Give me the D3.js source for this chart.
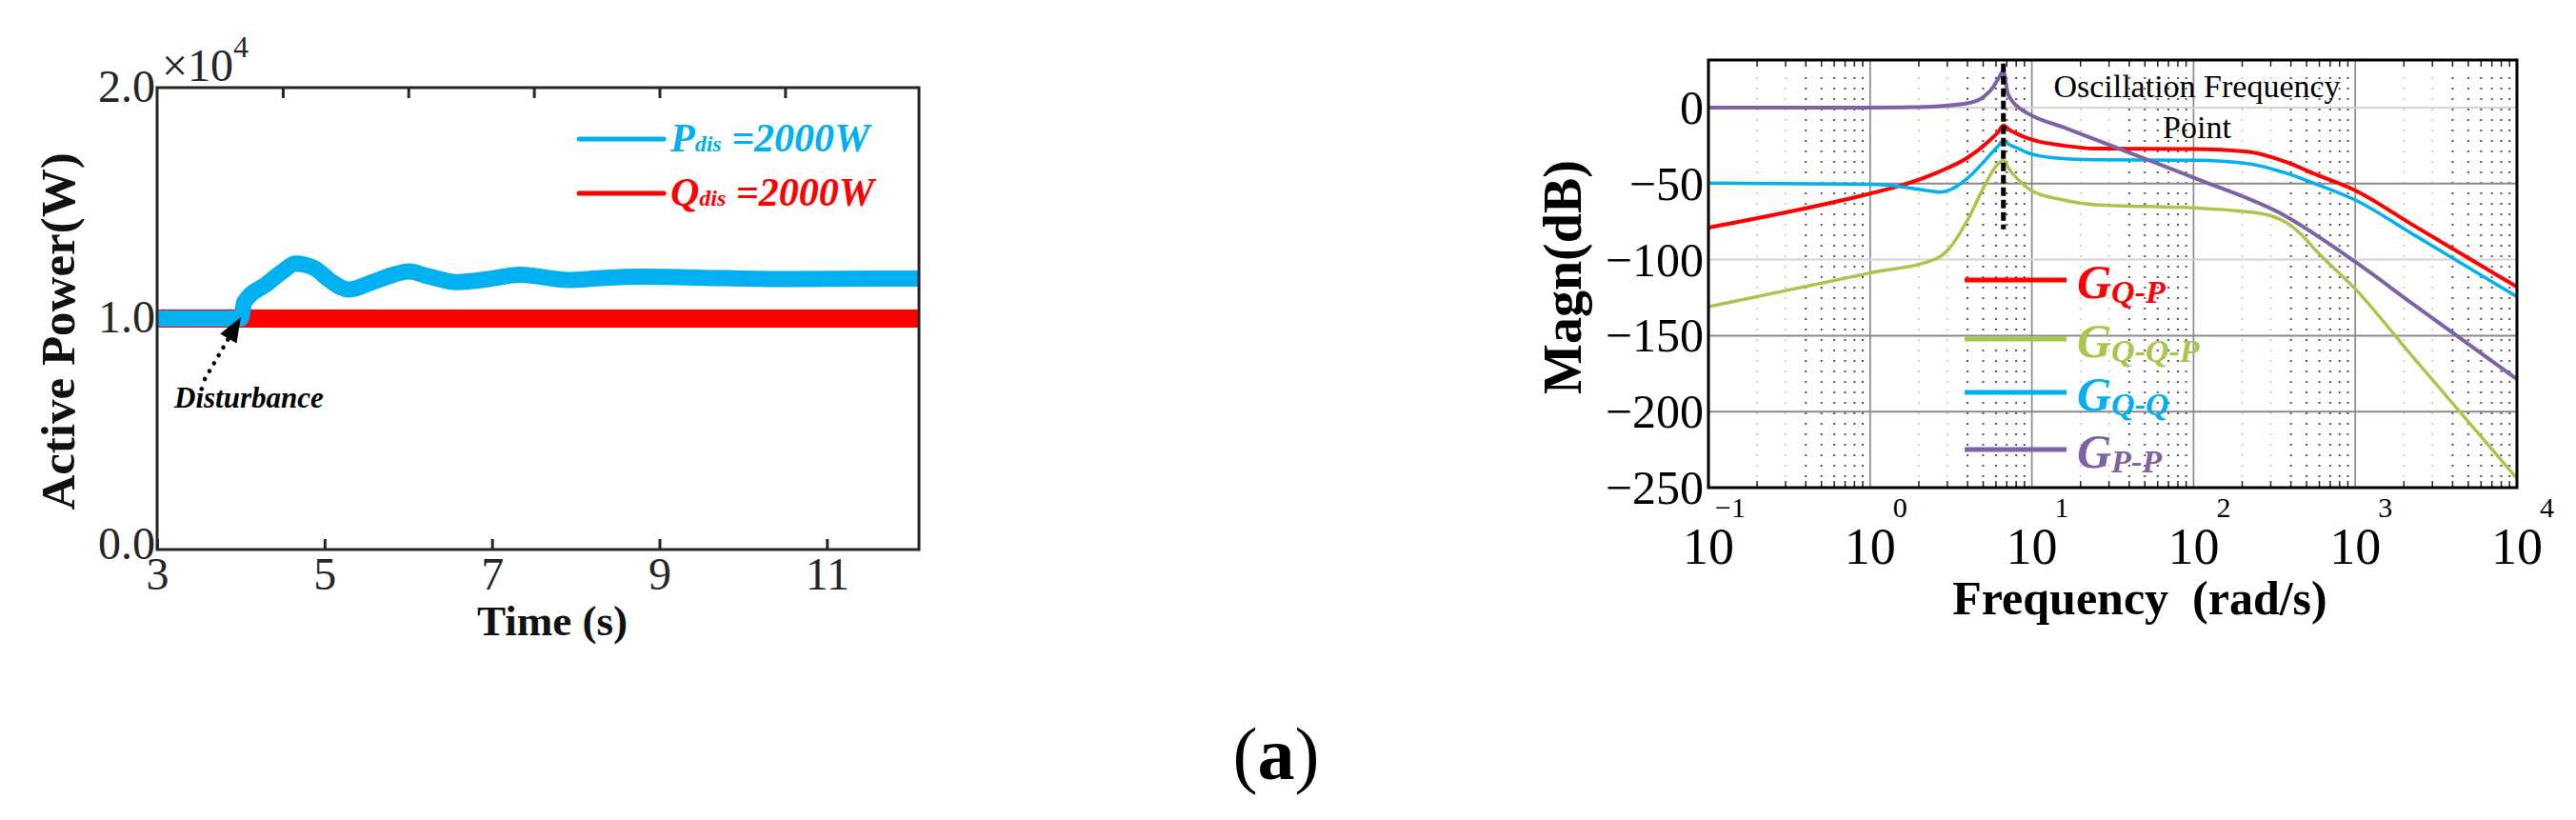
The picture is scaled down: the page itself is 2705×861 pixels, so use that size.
<!DOCTYPE html>
<html>
<head>
<meta charset="utf-8">
<script src="https://cdn.jsdelivr.net/npm/d3@7"></script>
<style>
  body { margin: 0; background: #fff; }
  text { font-family: 'Liberation Serif', 'Times New Roman', serif; }
</style>
</head>
<body>
<script>
// ---- values ----

// Left panel: active power (x10^4 W) against time (s).
var timeTicks = [3, 5, 7, 9, 11];
var timeTopTicks = [4.5, 6, 7.5, 9, 10.5];
var powerTicks = [0, 1, 2];

var pDisTime  = [3, 4.0, 4.04, 4.31, 4.5, 4.65, 4.88, 5.07, 5.29, 5.56, 5.82, 6.01, 6.24, 6.58, 6.96, 7.34, 7.91, 8.29, 8.78, 9.77, 10.53, 11.67, 12.1];
var pDisValue = [1.0, 1.0, 1.07, 1.15, 1.204, 1.238, 1.218, 1.163, 1.126, 1.156, 1.19, 1.204, 1.183, 1.158, 1.171, 1.19, 1.167, 1.175, 1.181, 1.175, 1.171, 1.173, 1.173];
var qDisTime  = [3, 4.0, 12.1];
var qDisValue = [1.0, 1.0, 1.0];

// Right panel: magnitude (dB) against frequency (rad/s).
var freqTicks = [0.1, 1, 10, 100, 1000, 10000];
var freqExponents = ['\u22121', '0', '1', '2', '3', '4'];
var magTicks = [0, -50, -100, -150, -200, -250];
var oscFreq = 6.67;

var gqpFreq = [0.1, 1, 1.49, 2.56, 4.05, 5.3, 6.2, 6.67, 7.3, 8.0, 9.9, 15.7, 24.6, 99.5, 215, 371, 571, 1000, 2250, 10000];
var gqpMag  = [-79, -56.6, -51.8, -43, -32.6, -23, -16, -11.7, -14.8, -17, -21, -25, -27, -27.3, -29, -35.7, -44, -54.5, -77, -118];

var gqqpFreq = [0.1, 1, 2.56, 2.94, 4.05, 5.04, 6.09, 6.67, 7.3, 8.0, 9.9, 15.7, 24.6, 99.5, 189, 296, 371, 466, 571, 1000, 2250, 10000];
var gqqpMag  = [-131, -108.8, -99.4, -95, -73, -52.4, -37.8, -34.7, -41, -46, -54.5, -60.8, -63.9, -66, -68, -71, -75.4, -83.7, -94, -119.3, -163.5, -244];

var gqqFreq = [0.1, 1, 1.63, 2.2, 2.7, 3.2, 4.05, 5.04, 6.1, 6.67, 7.3, 8.0, 9.9, 15.7, 24.6, 99.5, 215, 371, 571, 1000, 2250, 10000];
var gqqMag  = [-49.7, -50.5, -52.4, -54.5, -55.6, -53.5, -46, -35.7, -26, -22, -24.5, -26.3, -30.5, -33.6, -34.3, -34.7, -36.8, -43, -50.3, -60.8, -83, -124.5];

var gppFreq = [0.1, 1, 1.6, 2.56, 4.05, 5.04, 5.76, 6.2, 6.67, 7.06, 7.6, 8.3, 9.9, 15.7, 24.6, 99.5, 371, 1000, 2250, 10000];
var gppMag  = [0, 0, 0.2, 0.8, 2.9, 7.1, 13.3, 19, 24, 10.2, 4, 0, -5, -13, -21, -46, -71.4, -101.5, -128.9, -178.6];

var bodeNames = ['Q-P', 'Q-Q-P', 'Q-Q', 'P-P'];

// Colours used in the figure.
var blue = '#00b0f0', red = '#ff0000', green = '#a9c64a', purple = '#7e62a6';
var axisGrey = '#262626';

var svg = d3.select('body').append('svg')
    .attr('width', 2705)
    .attr('height', 861)
    .style('background', '#fff');

// =====================================================================
// Left panel
// =====================================================================
var L = {x0: 165, x1: 965, y0: 92, y1: 577};

var xTime = d3.scaleLinear().domain([3, 12.1]).range([L.x0, L.x1]);
var yPower = d3.scaleLinear().domain([0, 2]).range([L.y1, L.y0]);

var powerLine = d3.line()
    .x(function(d){ return xTime(d[0]); })
    .y(function(d){ return yPower(d[1]); })
    .curve(d3.curveMonotoneX);

// Red band first, blue over it (blue covers red before the disturbance).
svg.append('path')
    .attr('d', powerLine(d3.zip(qDisTime, qDisValue)))
    .attr('fill', 'none')
    .attr('stroke', red)
    .attr('stroke-width', 19);

svg.append('path')
    .attr('d', powerLine(d3.zip(pDisTime, pDisValue)))
    .attr('fill', 'none')
    .attr('stroke', blue)
    .attr('stroke-width', 17);

// Box round the plot.
svg.append('rect')
    .attr('x', L.x0).attr('y', L.y0)
    .attr('width', L.x1 - L.x0).attr('height', L.y1 - L.y0)
    .attr('fill', 'none')
    .attr('stroke', axisGrey)
    .attr('stroke-width', 3);

// Bottom axis with inward ticks.
var timeAxis = svg.append('g')
    .attr('transform', 'translate(0,' + L.y1 + ')')
    .call(d3.axisBottom(xTime).tickValues(timeTicks).tickSize(-11).tickPadding(8));
timeAxis.select('.domain').remove();
timeAxis.selectAll('line').attr('stroke', axisGrey).attr('stroke-width', 3);
timeAxis.selectAll('text')
    .attr('fill', axisGrey)
    .style('font-size', '48px')
    .style('font-family', "'Liberation Serif', serif");

// Top ticks (no labels).
var topAxis = svg.append('g')
    .attr('transform', 'translate(0,' + L.y0 + ')')
    .call(d3.axisTop(xTime).tickValues(timeTopTicks).tickSize(-11).tickFormat(''));
topAxis.select('.domain').remove();
topAxis.selectAll('line').attr('stroke', axisGrey).attr('stroke-width', 3);

// Left axis labels only.
var powerAxis = svg.append('g')
    .attr('transform', 'translate(' + L.x0 + ',0)')
    .call(d3.axisLeft(yPower).tickValues(powerTicks).tickSize(0).tickPadding(2)
        .tickFormat(d3.format('.1f')));
powerAxis.select('.domain').remove();
powerAxis.selectAll('text')
    .attr('fill', axisGrey)
    .attr('dy', function(d){ return d === 0 ? '0.2em' : '0.3em'; })
    .style('font-size', '48px')
    .style('font-family', "'Liberation Serif', serif");

// x10^4 exponent.
var expo = svg.append('text')
    .attr('x', 170).attr('y', 85)
    .attr('fill', axisGrey)
    .style('font-size', '48px');
expo.append('tspan').text('\u00d710');
expo.append('tspan').attr('dy', -25).style('font-size', '32px').text('4');

// Axis titles.
svg.append('text')
    .attr('transform', 'translate(78,348) rotate(-90)')
    .attr('text-anchor', 'middle')
    .style('font-weight', 'bold')
    .style('font-size', '51px')
    .attr('fill', '#111')
    .text('Active Power(W)');

svg.append('text')
    .attr('x', 580).attr('y', 667)
    .attr('text-anchor', 'middle')
    .style('font-weight', 'bold')
    .style('font-size', '45px')
    .attr('fill', '#111')
    .text('Time (s)');

// Legend.
var leftLegend = [
    {name: 'P', color: blue, y: 146},
    {name: 'Q', color: red, y: 203}
];
leftLegend.forEach(function(d){
    svg.append('line')
        .attr('x1', 608).attr('x2', 697)
        .attr('y1', d.y).attr('y2', d.y)
        .attr('stroke', d.color)
        .attr('stroke-width', 5)
        .attr('stroke-linecap', 'round');
    var t = svg.append('text')
        .attr('x', 704).attr('y', d.y + 13)
        .attr('fill', d.color)
        .style('font-style', 'italic')
        .style('font-weight', 'bold')
        .style('font-size', '42px')
        .style('white-space', 'pre');
    t.append('tspan').text(d.name);
    t.append('tspan').style('font-size', '24px').text('dis');
    t.append('tspan').text(' =2000W');
});

// Disturbance annotation: dotted arrow.
var arrowFrom = [xTime(3.57), yPower(0.738)];
var arrowTo = [xTime(4.0), yPower(1.006)];
var ang = Math.atan2(arrowTo[1] - arrowFrom[1], arrowTo[0] - arrowFrom[0]);
var headLen = 26, headHalf = 10;
var baseX = arrowTo[0] - headLen * Math.cos(ang), baseY = arrowTo[1] - headLen * Math.sin(ang);

svg.append('line')
    .attr('x1', arrowFrom[0]).attr('y1', arrowFrom[1])
    .attr('x2', baseX).attr('y2', baseY)
    .attr('stroke', '#000')
    .attr('stroke-width', 4.5)
    .attr('stroke-linecap', 'round')
    .attr('stroke-dasharray', '0.1,9.5');

svg.append('polygon')
    .attr('points', [
        arrowTo,
        [baseX + headHalf * Math.sin(ang), baseY - headHalf * Math.cos(ang)],
        [baseX - headHalf * Math.sin(ang), baseY + headHalf * Math.cos(ang)]
    ].map(function(p){ return p.join(','); }).join(' '))
    .attr('fill', '#000');

svg.append('text')
    .attr('x', 183).attr('y', 428)
    .style('font-style', 'italic')
    .style('font-weight', 'bold')
    .style('font-size', '31px')
    .attr('fill', '#000')
    .text('Disturbance');

// =====================================================================
// Right panel (Bode magnitude)
// =====================================================================
var R = {x0: 1794, x1: 2643, y0: 63, y1: 512};

var xFreq = d3.scaleLog().domain([0.1, 10000]).range([R.x0, R.x1]);
var yMag = d3.scaleLinear().domain([-250, 31.3]).range([R.y1, R.y0]);

// Minor frequencies 2..9 in every decade, for dotted grid and small ticks.
var minorFreqs = [];
for (var dec = -1; dec < 4; dec++) {
    for (var k = 2; k < 10; k++) {
        minorFreqs.push({f: k * Math.pow(10, dec), k: k});
    }
}

var grid = svg.append('g');

grid.selectAll('.minor')
    .data(minorFreqs)
    .enter().append('line')
        .attr('x1', function(d){ return xFreq(d.f); })
        .attr('x2', function(d){ return xFreq(d.f); })
        .attr('y1', R.y0 + 18).attr('y2', R.y1)
        .attr('stroke', function(d){ return d.k < 4 ? '#cfcfcf' : '#555'; })
        .attr('stroke-width', 2)
        .attr('stroke-dasharray', '2,9');

grid.selectAll('.majorV')
    .data(freqTicks.slice(1, -1))
    .enter().append('line')
        .attr('x1', function(d){ return xFreq(d); })
        .attr('x2', function(d){ return xFreq(d); })
        .attr('y1', R.y0).attr('y2', R.y1)
        .attr('stroke', '#8a8a8a')
        .attr('stroke-width', 1.7);

grid.selectAll('.majorH')
    .data(magTicks.slice(0, -1))
    .enter().append('line')
        .attr('x1', R.x0).attr('x2', R.x1)
        .attr('y1', function(d){ return yMag(d); })
        .attr('y2', function(d){ return yMag(d); })
        .attr('stroke', function(d){ return (d === 0 || d === -100) ? '#d4d4d4' : '#8a8a8a'; })
        .attr('stroke-width', 2);

// Minor ticks on top and bottom edges.
[R.y0, R.y1].forEach(function(yEdge, i){
    var dir = i === 0 ? 1 : -1;
    grid.selectAll('.tick' + i)
        .data(minorFreqs)
        .enter().append('line')
            .attr('x1', function(d){ return xFreq(d.f); })
            .attr('x2', function(d){ return xFreq(d.f); })
            .attr('y1', yEdge).attr('y2', yEdge + dir * 7)
            .attr('stroke', '#222')
            .attr('stroke-width', 1.5);
});

// Curves.
var magLine = d3.line()
    .x(function(d){ return xFreq(d[0]); })
    .y(function(d){ return yMag(d[1]); })
    .curve(d3.curveMonotoneX);

var bodeSeries = [
    {freq: gqpFreq, mag: gqpMag, color: red, width: 4},
    {freq: gqqpFreq, mag: gqqpMag, color: green, width: 3.5},
    {freq: gqqFreq, mag: gqqMag, color: blue, width: 3.5},
    {freq: gppFreq, mag: gppMag, color: purple, width: 4}
];

bodeSeries.forEach(function(s){
    svg.append('path')
        .attr('d', magLine(d3.zip(s.freq, s.mag)))
        .attr('fill', 'none')
        .attr('stroke', s.color)
        .attr('stroke-width', s.width)
        .attr('stroke-linejoin', 'round');
});

// Oscillation frequency marker.
svg.append('line')
    .attr('x1', xFreq(oscFreq)).attr('x2', xFreq(oscFreq))
    .attr('y1', yMag(29)).attr('y2', yMag(-80))
    .attr('stroke', '#000')
    .attr('stroke-width', 5)
    .attr('stroke-dasharray', '9,4');

svg.append('text')
    .attr('x', 2307).attr('y', 102)
    .attr('text-anchor', 'middle')
    .style('font-size', '34px')
    .attr('fill', '#000')
    .text('Oscillation Frequency');

svg.append('text')
    .attr('x', 2307).attr('y', 145)
    .attr('text-anchor', 'middle')
    .style('font-size', '34px')
    .attr('fill', '#000')
    .text('Point');

// Box.
svg.append('rect')
    .attr('x', R.x0).attr('y', R.y0)
    .attr('width', R.x1 - R.x0).attr('height', R.y1 - R.y0)
    .attr('fill', 'none')
    .attr('stroke', '#000')
    .attr('stroke-width', 3);

// y labels.
var magAxis = svg.append('g')
    .attr('transform', 'translate(' + R.x0 + ',0)')
    .call(d3.axisLeft(yMag).tickValues(magTicks).tickSize(0).tickPadding(5)
        .tickFormat(function(d){ return d < 0 ? '\u2212' + Math.abs(d) : d; }));
magAxis.select('.domain').remove();
magAxis.selectAll('text')
    .attr('fill', '#000')
    .attr('dy', '0.33em')
    .style('font-size', '50px')
    .style('font-family', "'Liberation Serif', serif");

// x labels: 10 with exponent.
var freqLabels = svg.append('g').selectAll('g')
    .data(freqTicks)
    .enter().append('g')
        .attr('transform', function(d){ return 'translate(' + xFreq(d) + ',0)'; });

freqLabels.append('text')
    .attr('y', 592)
    .attr('text-anchor', 'middle')
    .style('font-size', '54px')
    .attr('fill', '#000')
    .text('10');

freqLabels.append('text')
    .attr('x', 39).attr('y', 543)
    .attr('text-anchor', 'end')
    .style('font-size', '30px')
    .attr('fill', '#000')
    .text(function(d, i){ return freqExponents[i]; });

svg.append('text')
    .attr('x', 2247).attr('y', 645)
    .attr('text-anchor', 'middle')
    .style('font-weight', 'bold')
    .style('font-size', '50px')
    .attr('fill', '#000')
    .text('Frequency\u00a0\u00a0(rad/s)');

svg.append('text')
    .attr('transform', 'translate(1660,291) rotate(-90)')
    .attr('text-anchor', 'middle')
    .style('font-weight', 'bold')
    .style('font-size', '56px')
    .attr('fill', '#000')
    .text('Magn(dB)');

// Legend.
var legendY = [294, 356, 412, 472];
bodeSeries.forEach(function(s, i){
    svg.append('line')
        .attr('x1', 2063).attr('x2', 2170)
        .attr('y1', legendY[i]).attr('y2', legendY[i])
        .attr('stroke', s.color)
        .attr('stroke-width', 5);
    var t = svg.append('text')
        .attr('x', 2181).attr('y', legendY[i] + 19)
        .attr('fill', s.color)
        .style('font-style', 'italic')
        .style('font-weight', 'bold')
        .style('font-size', '50px');
    t.append('tspan').text('G');
    t.append('tspan').attr('dy', 5).style('font-size', '34px').text(bodeNames[i]);
});

// =====================================================================
// Caption
// =====================================================================
var cap = svg.append('text')
    .attr('x', 1340).attr('y', 818)
    .attr('text-anchor', 'middle')
    .style('font-size', '78px')
    .attr('fill', '#000');
cap.append('tspan').text('(');
cap.append('tspan').style('font-weight', 'bold').text('a');
cap.append('tspan').text(')');
</script>
</body>
</html>
